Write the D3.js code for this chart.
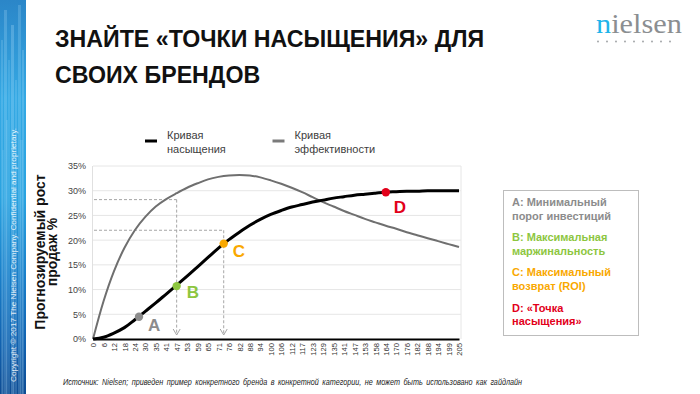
<!DOCTYPE html>
<html><head><meta charset="utf-8">
<script src="https://cdn.jsdelivr.net/npm/d3@7"></script>
<style>
body{margin:0;background:#fff;}
svg{display:block;font-family:"Liberation Sans",Arial,sans-serif;}
</style>
</head><body><svg id="c" width="700" height="394"></svg>
<script>
// ---------- data ----------
const xLabels = ["0","6","12","18","24","30","35","41","47","53","59","65","71","76","82","88","94","100","106","112","117","123","129","135","141","147","153","158","164","170","176","182","188","194","199","205"];
const saturation = [0,0.35,1.2,2.3,3.9,5.6,7.3,9.1,10.9,12.7,14.6,16.5,18.4,20.1,21.6,23.0,24.2,25.2,26.0,26.7,27.2,27.7,28.1,28.5,28.8,29.1,29.3,29.5,29.7,29.8,29.9,29.9,30.0,30.0,30.0,30.0];
const efficiency = [0,7.6,13.7,18.4,22.0,24.7,26.8,28.3,29.5,30.6,31.5,32.3,32.8,33.1,33.2,33.1,32.7,32.1,31.4,30.6,29.7,28.7,27.7,26.8,25.9,25.1,24.3,23.6,22.9,22.3,21.6,21.0,20.4,19.8,19.2,18.6];
const yTicks = [0,5,10,15,20,25,30,35];
const pointNames = ["A","B","C","D"];
const pointPos = [4.4, 8, 12.5, 28];      // position along category axis (index)
const pointVals = [4.5, 10.7, 19.3, 29.7];
const guidePos = [8, 12.5];
const guideVals = [28.2, 22.0];
const legendLabels = [["Кривая","насыщения"],["Кривая","эффективности"]];
const boxLines = [["A: Минимальный","порог инвестиций"],["B: Максимальная","маржинальность"],["C: Максимальный","возврат (ROI)"],["D: «Точка","насыщения»"]];
const titleLines = ["ЗНАЙТЕ «ТОЧКИ НАСЫЩЕНИЯ» ДЛЯ","СВОИХ БРЕНДОВ"];
const yTitle = ["Прогнозируемый рост","продаж %"];
const sourceText = "Источник: Nielsen; приведен пример конкретного бренда в конкретной категории, не может быть использовано как гайдлайн";
const copyrightText = "Copyright © 2017 The Nielsen Company. Confidential and proprietary.";

// ---------- styles ----------
const pointColors = ["#8c8c8c","#8dc63f","#f9a800","#e2001a"];
const svg = d3.select("#c");

// left blue strip
const defs = svg.append("defs");
const g1 = defs.append("linearGradient").attr("id","strip").attr("x1",0).attr("y1",0).attr("x2",0).attr("y2",1);
[[0,"#2b86c8"],[0.25,"#35a9e4"],[0.5,"#2aa3e0"],[0.7,"#1a7fc9"],[0.88,"#1261ae"],[1,"#0e4c93"]]
  .forEach(([o,c])=>g1.append("stop").attr("offset",o).attr("stop-color",c));
svg.append("rect").attr("x",0).attr("y",0).attr("width",26).attr("height",394).attr("fill","url(#strip)");
const streaks = [[1,2,40,0.18],[4,3,10,0.22],[8,2,60,0.15],[11,3,25,0.25],[15,2,80,0.18],[18,3,5,0.2],[22,2,50,0.22],
                 [2,2,150,0.12],[6,2,120,0.16],[13,2,170,0.12],[20,3,140,0.14]];
svg.append("g").selectAll("rect").data(streaks).join("rect")
  .attr("x",d=>d[0]).attr("width",d=>d[1]).attr("y",d=>d[2]).attr("height",d=>394-d[2])
  .attr("fill","#bfe9ff").attr("opacity",d=>d[3]);
svg.append("text").attr("transform","translate(16,382) rotate(-90)")
  .attr("font-size",7.4).attr("fill","#ffffff").attr("fill-opacity",0.85)
  .attr("textLength",254).attr("lengthAdjust","spacingAndGlyphs").text(copyrightText);

// title
svg.append("g").selectAll("text").data(titleLines).join("text")
  .attr("x",55).attr("y",(d,i)=>47+i*36)
  .attr("font-size",23.2).attr("font-weight","bold").attr("fill","#111")
  .text(d=>d);

// logo
const logo = svg.append("text").attr("x",596).attr("y",33)
  .attr("font-family","'Liberation Serif','DejaVu Serif',serif").attr("font-size",28)
  .attr("textLength",86).attr("lengthAdjust","spacingAndGlyphs");
logo.append("tspan").attr("fill","#1fb4ea").text("n");
logo.append("tspan").attr("fill","#8b8e91").text("ielsen");
svg.append("g").selectAll("circle").data(d3.range(9)).join("circle")
  .attr("cx",i=>598+i*9).attr("cy",41.5).attr("r",0.9).attr("fill","#9a9da0");

// scales
const x = d3.scaleLinear().domain([0, xLabels.length-1]).range([93, 459]);
const y = d3.scaleLinear().domain([0, 35]).range([339, 166]);

// gridlines
svg.append("g").selectAll("line").data(yTicks.filter(t=>t>0)).join("line")
  .attr("x1",x(0)).attr("x2",461).attr("y1",d=>y(d)).attr("y2",d=>y(d))
  .attr("stroke","#e6e6e6").attr("stroke-width",1);
svg.append("line").attr("x1",461).attr("x2",461).attr("y1",y(35)).attr("y2",y(0)).attr("stroke","#e6e6e6");
svg.append("line").attr("x1",x(0)-0.5).attr("x2",x(0)-0.5).attr("y1",y(35)).attr("y2",y(0)).attr("stroke","#e0e0e0");

// y axis labels
const yAxis = svg.append("g").attr("transform","translate(86,0)")
  .call(d3.axisLeft(y).tickValues(yTicks).tickFormat(d=>d+"%").tickSize(0).tickPadding(0));
yAxis.select(".domain").remove();
yAxis.selectAll("text").attr("font-size",9).attr("fill","#444").attr("font-family","'Liberation Sans',Arial,sans-serif");

// x axis
const xAxis = svg.append("g").attr("transform","translate(0,339)")
  .call(d3.axisBottom(x).tickValues(d3.range(xLabels.length)).tickFormat(i=>xLabels[i]).tickSize(0).tickPadding(0));
xAxis.select(".domain").attr("stroke","#000").attr("stroke-width",2.2);
xAxis.selectAll("text").attr("font-size",7.6).attr("fill","#333")
  .attr("font-family","'Liberation Sans',Arial,sans-serif")
  .attr("transform","rotate(-90)").attr("text-anchor","end")
  .attr("x",-4).attr("y",0).attr("dy","0.35em");

// y title
svg.append("g").selectAll("text").data(yTitle).join("text")
  .attr("transform",(d,i)=>`translate(${45+i*11.5},252) rotate(-90)`)
  .attr("text-anchor","middle").attr("font-size",14).attr("font-weight","bold").attr("fill","#111")
  .text(d=>d);

// guide dashed lines
const guides = svg.append("g").attr("stroke","#a6a6a6").attr("fill","none").attr("stroke-width",1);
guidePos.forEach((p,i)=>{
  guides.append("line").attr("x1",x(0)+1).attr("x2",x(p)).attr("y1",y(guideVals[i])).attr("y2",y(guideVals[i]))
    .attr("stroke-dasharray","3,2");
  guides.append("line").attr("x1",x(p)).attr("x2",x(p)).attr("y1",y(guideVals[i])).attr("y2",y(0)-4)
    .attr("stroke-dasharray","3,2");
  guides.append("path").attr("d",`M${x(p)-3.5},${y(0)-10}L${x(p)},${y(0)-4}L${x(p)+3.5},${y(0)-10}`);
});

// curves
const line = d3.line().x((d,i)=>x(i)).y(d=>y(d)).curve(d3.curveCatmullRom.alpha(0.5));
svg.append("path").datum(efficiency).attr("d",line).attr("fill","none").attr("stroke","#6f6f6f").attr("stroke-width",2);
svg.append("path").datum(saturation).attr("d",line).attr("fill","none").attr("stroke","#000").attr("stroke-width",3);

// points
svg.append("g").selectAll("circle").data(pointNames).join("circle")
  .attr("cx",(d,i)=>x(pointPos[i])).attr("cy",(d,i)=>y(pointVals[i])).attr("r",4.2)
  .attr("fill",(d,i)=>pointColors[i]);
const labelOff = [[9,14],[10,12],[9,13],[8,21]];
svg.append("g").selectAll("text").data(pointNames).join("text")
  .attr("x",(d,i)=>x(pointPos[i])+labelOff[i][0]).attr("y",(d,i)=>y(pointVals[i])+labelOff[i][1])
  .attr("font-size",17).attr("font-weight","bold").attr("fill",(d,i)=>pointColors[i]).text(d=>d);

// legend
const legColors = ["#000","#7a7a7a"];
const lg = svg.append("g").selectAll("g").data(legendLabels).join("g")
  .attr("transform",(d,i)=>`translate(${145+i*127.5},0)`);
lg.append("line").attr("x1",0).attr("x2",12).attr("y1",141).attr("y2",141)
  .attr("stroke",(d,i)=>legColors[i]).attr("stroke-width",3);
lg.append("text").attr("x",22).attr("y",139).attr("font-size",11).attr("fill","#404040")
  .selectAll("tspan").data(d=>d).join("tspan").attr("x",22).attr("dy",(d,i)=>i?14:0).text(d=>d);

// right box
svg.append("rect").attr("x",503.5).attr("y",190.5).attr("width",135).attr("height",145)
  .attr("fill","#fff").attr("stroke","#bdbdbd").attr("stroke-width",1);
svg.append("g").selectAll("text").data(boxLines).join("text")
  .attr("x",512).attr("y",(d,i)=>206+i*35.2).attr("font-size",11).attr("font-weight","bold")
  .attr("fill",(d,i)=>pointColors[i])
  .selectAll("tspan").data(d=>d).join("tspan").attr("x",512).attr("dy",(d,i)=>i?13.5:0).text(d=>d);

// source
svg.append("text").attr("x",63).attr("y",385).attr("font-size",9.6).attr("font-style","italic").attr("fill","#222")
  .attr("textLength",459).attr("lengthAdjust","spacingAndGlyphs").attr("word-spacing",2).text(sourceText);
</script>
</body></html>
